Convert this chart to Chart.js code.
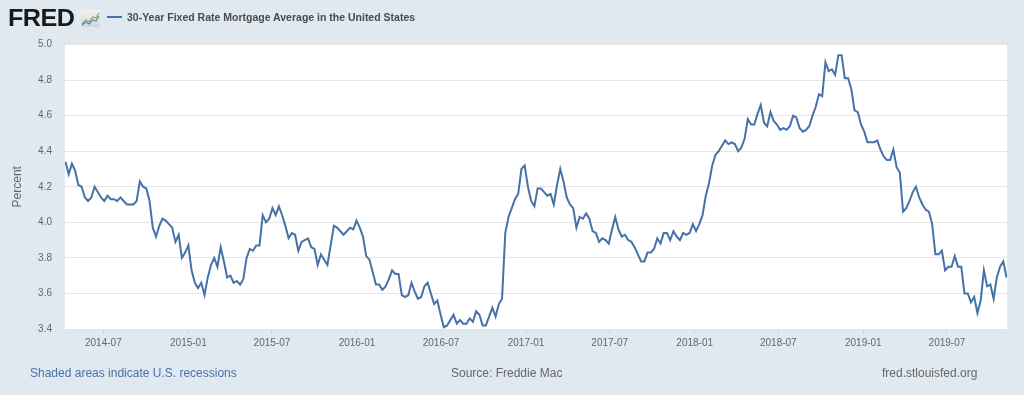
<!DOCTYPE html>
<html lang="en">
<head>
  <meta charset="UTF-8" />
  <title>30-Year Fixed Rate Mortgage Average in the United States</title>
  <script src="https://cdn.jsdelivr.net/npm/chart.js"></script>
  <style>
    body {
      margin: 0;
      background-color: #e1e9f0;
      font-family: 'Liberation Sans', Arial, sans-serif;
    }

    #wrap {
      position: relative;
      width: 1024px;
      height: 395px;
      overflow: hidden;
    }

    #chartBox {
      position: absolute;
      left: 0;
      top: 0;
      width: 1024px;
      height: 395px;
    }

    .logo {
      position: absolute;
      left: 8px;
      top: 4px;
      font-size: 24px;
      font-weight: bold;
      letter-spacing: -0.5px;
      color: #1a1a1a;
      transform: scaleX(1.05);
      transform-origin: left center;
    }

    .logo-icon {
      position: absolute;
      left: 81px;
      top: 10px;
    }

    .legend-line {
      position: absolute;
      left: 107px;
      top: 16px;
      width: 15px;
      height: 2px;
      background-color: #4572a7;
    }

    .legend-text {
      position: absolute;
      left: 127px;
      top: 11px;
      font-size: 10.5px;
      font-weight: bold;
      color: #4a4a4a;
    }

    .foot {
      position: absolute;
      top: 366px;
      font-size: 12px;
    }
  </style>
</head>
<body>
  <div id="wrap">
    <div id="chartBox"><canvas id="mortChart"></canvas></div>
    <div class="logo">FRED</div>
    <svg class="logo-icon" width="19" height="17" viewBox="0 0 19 17">
      <defs>
        <linearGradient id="ig" x1="0" y1="0" x2="0" y2="1">
          <stop offset="0" stop-color="#f2f2f2" />
          <stop offset="1" stop-color="#cfd6dc" />
        </linearGradient>
      </defs>
      <rect x="0" y="0" width="19" height="17" fill="url(#ig)" />
      <polyline points="1,14 5,10 8,12 12,7 15,8 18,3" fill="none" stroke="#8cb04a" stroke-width="1.3" />
      <polyline points="1,15 5,12 8,14 12,10 15,11 18,6" fill="none" stroke="#5b86b8" stroke-width="1.1" />
    </svg>
    <div class="legend-line"></div>
    <div class="legend-text">30-Year Fixed Rate Mortgage Average in the United States</div>
    <div class="foot" style="left:30px; color:#4a70a8;">Shaded areas indicate U.S. recessions</div>
    <div class="foot" style="left:451px; color:#666;">Source: Freddie Mac</div>
    <div class="foot" style="left:882px; color:#666;">fred.stlouisfed.org</div>
  </div>

  <script>
    // weekly observations, first one on 2014-04-10
    const firstWeek = '2014-04-10';

    const rates2014 = [4.34, 4.27, 4.33, 4.29, 4.21, 4.20, 4.14, 4.12, 4.14, 4.20, 4.17, 4.14, 4.12,
      4.15, 4.13, 4.13, 4.12, 4.14, 4.12, 4.10, 4.10, 4.10, 4.12, 4.23, 4.20, 4.19, 4.12, 3.97,
      3.92, 3.98, 4.02, 4.01, 3.99, 3.97, 3.89, 3.93, 3.80, 3.83, 3.87];
    const rates2015 = [3.73, 3.66, 3.63, 3.66, 3.59, 3.69, 3.76, 3.80, 3.75, 3.86, 3.78, 3.69, 3.70,
      3.66, 3.67, 3.65, 3.68, 3.80, 3.85, 3.84, 3.87, 3.87, 4.04, 4.00, 4.02, 4.08, 4.04, 4.09,
      4.04, 3.98, 3.91, 3.94, 3.93, 3.84, 3.89, 3.90, 3.91, 3.86, 3.85, 3.76, 3.82, 3.79, 3.76,
      3.87, 3.98, 3.97, 3.95, 3.93, 3.95, 3.97, 3.96, 4.01];
    const rates2016 = [3.97, 3.92, 3.81, 3.79, 3.72, 3.65, 3.65, 3.62, 3.64, 3.68, 3.73, 3.71, 3.71,
      3.59, 3.58, 3.59, 3.66, 3.61, 3.57, 3.58, 3.64, 3.66, 3.60, 3.54, 3.56, 3.48, 3.41, 3.42,
      3.45, 3.48, 3.43, 3.45, 3.43, 3.43, 3.46, 3.44, 3.50, 3.48, 3.42, 3.42, 3.47, 3.52, 3.47,
      3.54, 3.57, 3.94, 4.03, 4.08, 4.13, 4.16, 4.30, 4.32];
    const rates2017 = [4.20, 4.12, 4.09, 4.19, 4.19, 4.17, 4.15, 4.16, 4.10, 4.21, 4.30, 4.23, 4.14,
      4.10, 4.08, 3.97, 4.03, 4.02, 4.05, 4.02, 3.95, 3.94, 3.89, 3.91, 3.90, 3.88, 3.96, 4.03,
      3.96, 3.92, 3.93, 3.90, 3.89, 3.86, 3.82, 3.78, 3.78, 3.83, 3.83, 3.85, 3.91, 3.88, 3.94,
      3.94, 3.90, 3.95, 3.92, 3.90, 3.94, 3.93, 3.94, 3.99];
    const rates2018 = [3.95, 3.99, 4.04, 4.15, 4.22, 4.32, 4.38, 4.40, 4.43, 4.46, 4.44, 4.45, 4.44,
      4.40, 4.42, 4.47, 4.58, 4.55, 4.55, 4.61, 4.66, 4.56, 4.54, 4.62, 4.57, 4.55, 4.52, 4.53,
      4.52, 4.54, 4.60, 4.59, 4.53, 4.51, 4.52, 4.54, 4.60, 4.65, 4.72, 4.71, 4.90, 4.85, 4.86,
      4.83, 4.94, 4.94, 4.81, 4.81, 4.75, 4.63, 4.62, 4.55];
    const rates2019 = [4.51, 4.45, 4.45, 4.45, 4.46, 4.41, 4.37, 4.35, 4.35, 4.41, 4.31, 4.28, 4.06,
      4.08, 4.12, 4.17, 4.20, 4.14, 4.10, 4.07, 4.06, 3.99, 3.82, 3.82, 3.84, 3.73, 3.75, 3.75,
      3.81, 3.75, 3.75, 3.60, 3.60, 3.55, 3.58, 3.49, 3.56, 3.73, 3.64, 3.65, 3.57, 3.69, 3.75,
      3.78, 3.69];

    const xTickLabels = ['2014-07', '2015-01', '2015-07', '2016-01', '2016-07', '2017-01',
      '2017-07', '2018-01', '2018-07', '2019-01', '2019-07'];
    const yTicks = [3.4, 3.6, 3.8, 4.0, 4.2, 4.4, 4.6, 4.8, 5.0];

    const rates = [].concat(rates2014, rates2015, rates2016, rates2017, rates2018, rates2019);

    const dayOffset = (s) => (Date.parse(s) - Date.parse(firstWeek)) / 86400000;

    const points = rates.map((v, i) => ({ x: i * 7, y: v }));
    const tickDays = xTickLabels.map(t => dayOffset(t + '-01'));

    const plotBg = {
      id: 'plotBg',
      beforeDraw(chart) {
        const { ctx, chartArea: a } = chart;
        ctx.save();
        ctx.fillStyle = '#ffffff';
        ctx.fillRect(a.left, a.top, a.right - a.left, a.bottom - a.top);
        ctx.restore();
      }
    };

    const tickFont = { family: "'Liberation Sans', Arial, sans-serif", size: 10 };

    new Chart(document.getElementById('mortChart'), {
      type: 'line',
      data: {
        datasets: [{
          label: '30-Year Fixed Rate Mortgage Average in the United States',
          data: points,
          borderColor: '#4572a7',
          borderWidth: 2,
          pointRadius: 0,
          fill: false,
          tension: 0
        }]
      },
      options: {
        responsive: true,
        maintainAspectRatio: false,
        animation: false,
        layout: { padding: { left: 0, top: 44.5, right: 17, bottom: 46 } },
        plugins: {
          legend: { display: false },
          title: { display: false },
          tooltip: { enabled: false }
        },
        scales: {
          x: {
            type: 'linear',
            min: -1,
            max: 2038,
            afterFit(s) { s.height = 20; },
            afterBuildTicks(s) { s.ticks = tickDays.map(d => ({ value: d })); },
            grid: {
              drawOnChartArea: false,
              drawTicks: true,
              tickLength: 5,
              color: '#ccd6eb'
            },
            border: { display: false },
            ticks: {
              autoSkip: false,
              maxRotation: 0,
              padding: 3,
              color: '#666666',
              font: tickFont,
              callback: (v) => xTickLabels[tickDays.indexOf(v)] ?? ''
            }
          },
          y: {
            min: 3.4,
            max: 5.0,
            afterFit(s) { s.width = 65; },
            afterBuildTicks(s) { s.ticks = yTicks.map(v => ({ value: v })); },
            grid: { color: '#e6e6e6', drawTicks: false },
            border: { display: false },
            ticks: {
              padding: 13,
              color: '#666666',
              font: tickFont,
              callback: (v) => v.toFixed(1)
            },
            title: {
              display: true,
              text: 'Percent',
              color: '#666666',
              font: { family: "'Liberation Sans', Arial, sans-serif", size: 12 },
              padding: { top: 10 }
            }
          }
        }
      },
      plugins: [plotBg]
    });
  </script>
</body>
</html>
